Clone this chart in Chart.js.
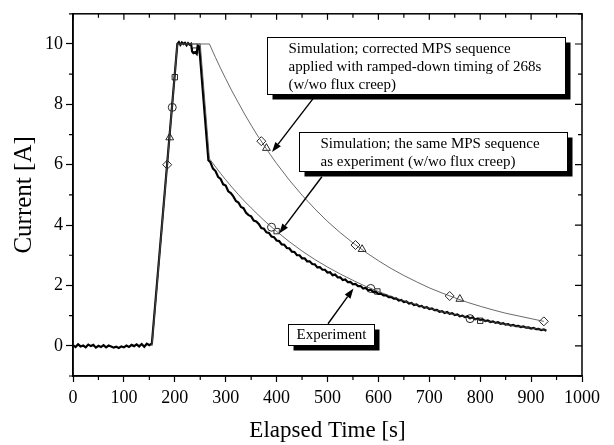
<!DOCTYPE html>
<html>
<head>
<meta charset="utf-8">
<script src="https://cdn.jsdelivr.net/npm/chart.js@4.4.1/dist/chart.umd.min.js"></script>
<style>
  html, body { margin: 0; padding: 0; background: #fff; }
  #wrap { width: 614px; height: 445px; }
</style>
</head>
<body>
<div id="wrap"><canvas id="chart" width="614" height="445"></canvas></div>
<script>
// ---- data ----
const xTicks = [0, 100, 200, 300, 400, 500, 600, 700, 800, 900, 1000];
const xTickLabels = ['0', '100', '200', '300', '400', '500', '600', '700', '800', '900', '1000'];
const yTicks = [0, 2, 4, 6, 8, 10];
const yTickLabels = ['0', '2', '4', '6', '8', '10'];

// measured current (noisy trace)
const expTime = [
  0, 5, 10, 15, 20, 25, 30, 35, 40, 45, 50, 55, 60, 65, 70, 75, 80, 85, 90, 95,
  100, 105, 110, 115, 120, 125, 130, 135, 140, 145, 150, 155,
  205, 208, 211, 214, 217, 220, 223, 226, 229, 232, 234, 237, 240, 243, 245, 248, 266,
  270, 275, 280, 285, 290, 295, 300, 305, 310, 315, 320, 325, 330, 335, 340, 345,
  350, 355, 360, 365, 370, 375, 380, 385, 390, 395, 400, 405, 410, 415, 420, 425,
  430, 435, 440, 445, 450, 455, 460, 465, 470, 475, 480, 485, 490, 495, 500, 505,
  510, 515, 520, 525, 530, 535, 540, 545, 550, 555, 560, 565, 570, 575, 580, 585,
  590, 595, 600, 605, 610, 615, 620, 625, 630, 635, 640, 645, 650, 655, 660, 665,
  670, 675, 680, 685, 690, 695, 700, 705, 710, 715, 720, 725, 730, 735, 740, 745,
  750, 755, 760, 765, 770, 775, 780, 785, 790, 795, 800, 805, 810, 815, 820, 825,
  830, 835, 840, 845, 850, 855, 860, 865, 870, 875, 880, 885, 890, 895, 900, 905,
  910, 915, 920, 925, 930
];
const expCurrent = [
  0.02, -0.04, 0.05, -0.02, 0.01, -0.05, 0.04, -0.01, 0.03, -0.06, 0.0, -0.04, 0.02, -0.05, 0.01, -0.02,
  -0.06, -0.03, -0.07, -0.02, -0.05, 0.01, -0.04, 0.03, -0.01, 0.05, -0.02, 0.06, -0.03, 0.07, 0.02, 0.08,
  10.0, 10.06, 9.97, 10.05, 10.0, 10.04, 9.96, 10.03, 9.98, 10.01, 9.75, 9.7, 9.73, 9.67, 9.95, 9.92, 6.15,
  6.08, 5.87, 5.79, 5.6, 5.53, 5.35, 5.31, 5.12, 5.06, 4.95, 4.8, 4.75, 4.6, 4.56, 4.41, 4.33,
  4.29, 4.15, 4.12, 4.04, 3.9, 3.88, 3.76, 3.74, 3.62, 3.6, 3.49, 3.47, 3.36, 3.35, 3.24, 3.23,
  3.12, 3.11, 3.0, 3.0, 2.9, 2.9, 2.8, 2.8, 2.71, 2.7, 2.6, 2.61, 2.52, 2.52, 2.43, 2.44,
  2.34, 2.36, 2.27, 2.27, 2.18, 2.2, 2.11, 2.12, 2.04, 2.05, 1.98, 1.98, 1.9, 1.92, 1.84, 1.86,
  1.78, 1.79, 1.72, 1.73, 1.67, 1.68, 1.61, 1.62, 1.56, 1.57, 1.5, 1.52, 1.45, 1.47, 1.4, 1.42,
  1.35, 1.37, 1.31, 1.32, 1.26, 1.28, 1.22, 1.24, 1.18, 1.19, 1.13, 1.15, 1.09, 1.12, 1.06, 1.08,
  1.02, 1.04, 0.98, 1.0, 0.95, 0.97, 0.91, 0.94, 0.88, 0.9, 0.85, 0.87, 0.82, 0.84, 0.79, 0.81,
  0.76, 0.78, 0.73, 0.75, 0.7, 0.72, 0.67, 0.69, 0.65, 0.66, 0.62, 0.64, 0.6, 0.61, 0.57, 0.59,
  0.55, 0.56, 0.52, 0.54, 0.5
];

// simulation, same MPS sequence as experiment
const simSameTime = [155, 205, 250, 268, 280, 290, 300, 312, 325, 337, 350, 362, 375, 387, 400, 425, 450, 475, 500,
  525, 550, 575, 600, 625, 650, 675, 700, 725, 750, 775, 800, 825, 850, 875, 900, 930];
const simSameCurrent = [0, 10, 10, 6.2, 5.93, 5.71, 5.5, 5.26, 5.01, 4.79, 4.57, 4.37, 4.16, 3.98, 3.79, 3.45, 3.14, 2.86, 2.61,
  2.38, 2.17, 1.97, 1.8, 1.64, 1.49, 1.36, 1.24, 1.13, 1.03, 0.94, 0.85, 0.78, 0.71, 0.64, 0.59, 0.52];

// simulation, corrected MPS sequence (ramp-down at 268 s)
const simCorrTime = [155, 205, 268, 280, 290, 300, 312, 325, 337, 350, 362, 375, 387, 400, 425, 450, 475, 500,
  525, 550, 575, 600, 625, 650, 675, 700, 725, 750, 775, 800, 825, 850, 875, 900, 925];
const simCorrCurrent = [0, 10, 10, 9.55, 9.19, 8.85, 8.45, 8.05, 7.68, 7.31, 6.98, 6.65, 6.35, 6.04, 5.49, 4.99, 4.54, 4.12,
  3.75, 3.41, 3.1, 2.82, 2.56, 2.33, 2.12, 1.92, 1.75, 1.59, 1.44, 1.31, 1.19, 1.08, 0.99, 0.9, 0.81];

// symbols on the simulation curves
const diamondTime = [185, 370, 555, 740, 925];
const diamondCurrent = [6.0, 6.78, 3.34, 1.65, 0.81];
const triangleTime = [190, 380, 568, 760];
const triangleCurrent = [6.9, 6.55, 3.2, 1.55];
const circleTime = [195, 390, 585, 780];
const circleCurrent = [7.9, 3.93, 1.9, 0.9];
const squareTime = [200, 240, 400, 598, 800];
const squareCurrent = [8.9, 9.78, 3.8, 1.8, 0.83];

// ---- annotation boxes and arrows (data coordinates) ----
const notes = [
  { x0: 381, x1: 967, y0: 10.24, y1: 8.35, inset: 21,
    lines: ['Simulation; corrected MPS sequence', 'applied with ramped-down timing of 268s', '(w/wo flux creep)'],
    arrow: [472, 8.2, 391, 6.42] },
  { x0: 444, x1: 971, y0: 7.08, y1: 5.78, inset: 21,
    lines: ['Simulation; the same MPS sequence', 'as experiment (w/wo flux creep)'],
    arrow: [489, 5.6, 405, 3.72] },
  { x0: 422, x1: 591, y0: 0.73, y1: 0.04, inset: 8,
    lines: ['Experiment'],
    arrow: [501, 0.73, 551, 1.9] }
];

const serif = '"Liberation Serif", "Times New Roman", serif';

function pts(xs, ys) {
  return xs.map((v, i) => ({ x: v, y: ys[i] }));
}

function markerSet(xs, ys, style, r) {
  return {
    data: pts(xs, ys),
    showLine: false,
    pointStyle: style,
    pointRadius: r,
    pointBorderColor: '#111',
    pointBackgroundColor: '#fff',
    pointBorderWidth: 0.9
  };
}

function arrow(ctx, x1, y1, x2, y2) {
  const ang = Math.atan2(y2 - y1, x2 - x1);
  const len = 10, half = 3.5;
  const bx = x2 - len * Math.cos(ang), by = y2 - len * Math.sin(ang);
  ctx.beginPath();
  ctx.moveTo(x1, y1);
  ctx.lineTo(bx, by);
  ctx.stroke();
  ctx.beginPath();
  ctx.moveTo(x2, y2);
  ctx.lineTo(bx + half * Math.sin(ang), by - half * Math.cos(ang));
  ctx.lineTo(bx - half * Math.sin(ang), by + half * Math.cos(ang));
  ctx.closePath();
  ctx.fill();
}

const framePlugin = {
  id: 'frame',
  afterDatasetsDraw(chart) {
    const { ctx, chartArea: a, scales: { x, y } } = chart;
    ctx.save();
    ctx.strokeStyle = '#000';
    ctx.fillStyle = '#000';

    // arrows first, boxes over them
    ctx.lineWidth = 1.4;
    notes.forEach(n => {
      const [ax, ay, bx, by] = n.arrow;
      arrow(ctx, x.getPixelForValue(ax), y.getPixelForValue(ay), x.getPixelForValue(bx), y.getPixelForValue(by));
    });

    notes.forEach(n => {
      const l = Math.round(x.getPixelForValue(n.x0)) + 0.5;
      const r = Math.round(x.getPixelForValue(n.x1)) + 0.5;
      const t = Math.round(y.getPixelForValue(n.y0)) + 0.5;
      const b = Math.round(y.getPixelForValue(n.y1)) + 0.5;
      ctx.fillStyle = '#000';
      ctx.fillRect(l + 5, t + 5, r - l, b - t);
      ctx.fillStyle = '#fff';
      ctx.fillRect(l, t, r - l, b - t);
      ctx.lineWidth = 1;
      ctx.strokeRect(l, t, r - l, b - t);
      ctx.fillStyle = '#000';
      ctx.font = '15px ' + serif;
      ctx.textAlign = 'left';
      ctx.textBaseline = 'middle';
      const h = b - t;
      const step = n.lines.length > 1 ? 18 : 0;
      const first = n.lines.length > 1 ? 12 : h / 2;
      n.lines.forEach((s, i) => ctx.fillText(s, l + n.inset, t + first + i * step));
    });

    // frame and mirrored / minor ticks
    ctx.lineWidth = 1.5;
    ctx.strokeRect(a.left, a.top, a.right - a.left, a.bottom - a.top);
    ctx.lineWidth = 1.2;
    ctx.beginPath();
    for (let v = 0; v <= 1000; v += 50) {
      const px = x.getPixelForValue(v);
      const major = v % 100 === 0;
      ctx.moveTo(px, a.top);
      ctx.lineTo(px, a.top + (major ? 6 : 4));
      if (!major) {
        ctx.moveTo(px, a.bottom);
        ctx.lineTo(px, a.bottom + 4);
      }
    }
    for (let v = -1; v <= 11; v += 1) {
      const py = y.getPixelForValue(v);
      const major = v % 2 === 0;
      ctx.moveTo(a.right, py);
      ctx.lineTo(a.right - (major ? 7 : 4), py);
      if (!major) {
        ctx.moveTo(a.left, py);
        ctx.lineTo(a.left - 4, py);
      }
    }
    ctx.stroke();
    ctx.restore();
  }
};

new Chart(document.getElementById('chart').getContext('2d'), {
  type: 'line',
  data: {
    datasets: [
      { data: pts(simCorrTime, simCorrCurrent), borderColor: '#444', borderWidth: 0.8, pointRadius: 0, tension: 0 },
      { data: pts(simSameTime, simSameCurrent), borderColor: '#444', borderWidth: 0.8, pointRadius: 0, tension: 0 },
      { data: pts(expTime, expCurrent), borderColor: '#000', borderWidth: 2.2, pointRadius: 0, tension: 0 },
      markerSet(diamondTime, diamondCurrent, 'rectRot', 4.5),
      markerSet(triangleTime, triangleCurrent, 'triangle', 4.5),
      markerSet(circleTime, circleCurrent, 'circle', 4),
      markerSet(squareTime, squareCurrent, 'rect', 3.8)
    ]
  },
  options: {
    responsive: false,
    animation: false,
    devicePixelRatio: 1,
    layout: { padding: { left: 0, right: 32, top: 6, bottom: 0 } },
    plugins: { legend: { display: false }, tooltip: { enabled: false } },
    scales: {
      x: {
        type: 'linear',
        min: 0,
        max: 1000,
        afterBuildTicks: s => { s.ticks = xTicks.map(v => ({ value: v })); },
        afterFit: s => { s.height = 69; },
        ticks: {
          color: '#000', font: { family: serif, size: 18 }, padding: 5, maxRotation: 0, autoSkip: false,
          callback: v => xTickLabels[xTicks.indexOf(v)]
        },
        grid: { drawOnChartArea: false, tickLength: 6, tickColor: '#000', tickWidth: 1.2 },
        border: { color: '#000', width: 1.5 },
        title: { display: true, text: 'Elapsed Time [s]', color: '#000', font: { family: serif, size: 23 }, padding: { top: 0, bottom: 0 } }
      },
      y: {
        type: 'linear',
        min: -1,
        max: 11,
        afterBuildTicks: s => { s.ticks = yTicks.map(v => ({ value: v })); },
        afterFit: s => { s.width = 73; },
        ticks: {
          color: '#000', font: { family: serif, size: 18 }, padding: 3,
          callback: v => yTickLabels[yTicks.indexOf(v)]
        },
        grid: { drawOnChartArea: false, tickLength: 7, tickColor: '#000', tickWidth: 1.2 },
        border: { color: '#000', width: 1.5 },
        title: { display: true, text: 'Current [A]', color: '#000', font: { family: serif, size: 25 }, padding: { top: 9, bottom: 0 } }
      }
    }
  },
  plugins: [framePlugin]
});
</script>
</body>
</html>
